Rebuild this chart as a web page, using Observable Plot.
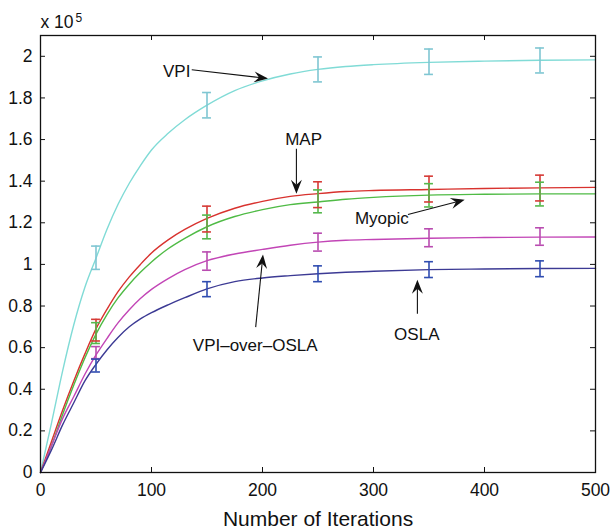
<!DOCTYPE html>
<html><head><meta charset="utf-8">
<script src="https://cdn.jsdelivr.net/npm/d3@7"></script>
<script src="https://cdn.jsdelivr.net/npm/@observablehq/plot@0.6"></script>
<style>html,body{margin:0;padding:0;background:#fff}</style>
</head><body><div id="chart"></div>
<script>
// ---- data ----
const iterations = [0,10,20,30,40,50,60,70,80,90,100,115,130,150,175,200,225,250,275,300,350,400,450,500];
const vpi        = [0,0.24,0.49,0.71,0.89,1.03,1.17,1.29,1.39,1.475,1.55,1.63,1.695,1.765,1.835,1.882,1.915,1.937,1.951,1.96,1.971,1.977,1.981,1.983];
const mapS       = [0,0.15,0.30,0.44,0.57,0.69,0.785,0.87,0.94,1.0,1.055,1.118,1.168,1.221,1.27,1.303,1.327,1.34,1.35,1.355,1.36,1.365,1.368,1.37];
const myopic     = [0,0.13,0.28,0.42,0.55,0.665,0.76,0.84,0.905,0.962,1.012,1.075,1.125,1.181,1.23,1.263,1.287,1.30,1.313,1.322,1.333,1.337,1.339,1.339];
const vpiOverOsla= [0,0.13,0.26,0.365,0.472,0.565,0.645,0.72,0.782,0.836,0.88,0.932,0.975,1.018,1.05,1.072,1.092,1.107,1.116,1.12,1.126,1.129,1.131,1.132];
const osla       = [0,0.11,0.23,0.335,0.44,0.52,0.59,0.65,0.70,0.738,0.768,0.806,0.84,0.882,0.917,0.935,0.946,0.955,0.962,0.967,0.975,0.978,0.98,0.981];

const barIterations = [50,150,250,350,450];
const vpiMean   = [1.032,1.765,1.937,1.974,1.98];
const vpiErr    = [0.056,0.061,0.06,0.061,0.06];
const mapMean   = [0.684,1.218,1.335,1.362,1.367];
const mapErr    = [0.052,0.062,0.062,0.062,0.062];
const myoMean   = [0.67,1.18,1.303,1.332,1.338];
const myoErr    = [0.05,0.057,0.055,0.056,0.057];
const voMean    = [0.576,1.016,1.107,1.128,1.134];
const voErr     = [0.029,0.044,0.043,0.043,0.042];
const oslaMean  = [0.514,0.881,0.955,0.975,0.979];
const oslaErr   = [0.031,0.036,0.038,0.038,0.038];

const xTicks = [0,100,200,300,400,500];
const yTicks = [0,0.2,0.4,0.6,0.8,1,1.2,1.4,1.6,1.8,2];

// annotations: label, text position, arrow start, arrow tip (data coordinates)
const annLabels = ["VPI","MAP","Myopic","VPI–over–OSLA","OSLA"];
const annTextX  = [122.7,237,307.5,193.4,339];
const annTextY  = [1.928,1.60,1.221,0.609,0.661];
const annFromX  = [136.7,231,331.5,194.3,340];
const annFromY  = [1.933,1.553,1.237,0.696,0.760];
const annToX    = [205.4,231,382.6,200.9,340];
const annToY    = [1.891,1.337,1.308,1.045,0.924];

// ---- build tables ----
const series = [
  {name:"VPI", values:vpi, mean:vpiMean, err:vpiErr, line:"#80dbd6", bar:"#7fc6d2"},
  {name:"MAP", values:mapS, mean:mapMean, err:mapErr, line:"#d8322e", bar:"#d63a36"},
  {name:"Myopic", values:myopic, mean:myoMean, err:myoErr, line:"#4fbb45", bar:"#55b84c"},
  {name:"VPI-over-OSLA", values:vpiOverOsla, mean:voMean, err:voErr, line:"#c245b6", bar:"#b94cb0"},
  {name:"OSLA", values:osla, mean:oslaMean, err:oslaErr, line:"#3c3a94", bar:"#2f4cb0"}
];
const lineData = series.flatMap(s => iterations.map((x,i) => ({name:s.name, x, y:s.values[i], c:s.line})));
const barData = series.flatMap(s => barIterations.map((x,i) => ({name:s.name, x, lo:s.mean[i]-s.err[i], hi:s.mean[i]+s.err[i], c:s.bar})));
const ann = annLabels.map((t,i) => ({t, tx:annTextX[i], ty:annTextY[i], fx:annFromX[i], fy:annFromY[i], x:annToX[i], y:annToY[i]}));

const font = "'Liberation Sans', Arial, Helvetica, sans-serif";

function arrowMark(index, scales) {
  const g = d3.create("svg:g");
  for (const a of ann) {
    const x1 = scales.x(a.fx), y1 = scales.y(a.fy), x2 = scales.x(a.x), y2 = scales.y(a.y);
    const ang = Math.atan2(y2 - y1, x2 - x1);
    const L = 14, W = 5.5, N = 5;
    const cos = Math.cos(ang), sin = Math.sin(ang);
    const pt = (u, v) => [x2 + u * cos - v * sin, y2 + u * sin + v * cos];
    const bx = pt(-L + N, 0);
    g.append("line").attr("x1", x1).attr("y1", y1).attr("x2", bx[0]).attr("y2", bx[1])
      .attr("stroke", "#111").attr("stroke-width", 1.1);
    const p = [pt(0,0), pt(-L, -W), pt(-L + N, 0), pt(-L, W)];
    g.append("path").attr("d", "M" + p.map(q => q.join(",")).join("L") + "Z").attr("fill", "#111");
  }
  return g.node();
}

const chart = Plot.plot({
  width: 613, height: 530,
  marginLeft: 40, marginRight: 18, marginTop: 35, marginBottom: 58,
  style: {fontFamily: font, fontSize: "17.5px", background: "#fff", color: "#111"},
  x: {domain: [0, 500]},
  y: {domain: [0, 2.1]},
  marks: [
    Plot.line(lineData, {x: "x", y: "y", z: "name", stroke: "c", strokeWidth: 1.4, curve: "monotone-x"}),
    Plot.ruleX(barData, {x: "x", y1: "lo", y2: "hi", stroke: "c", strokeWidth: 1.6}),
    Plot.ruleY(barData, {y: "lo", x1: d => d.x - 4, x2: d => d.x + 4, stroke: "c", strokeWidth: 1.6}),
    Plot.ruleY(barData, {y: "hi", x1: d => d.x - 4, x2: d => d.x + 4, stroke: "c", strokeWidth: 1.6}),
    // inward ticks on all four sides
    Plot.ruleY(yTicks, {y: d => d, x1: () => 0, x2: () => 4.5, stroke: "#111"}),
    Plot.ruleY(yTicks, {y: d => d, x1: () => 495.5, x2: () => 500, stroke: "#111"}),
    Plot.ruleX(xTicks, {x: d => d, y1: () => 0, y2: () => 0.024, stroke: "#111"}),
    Plot.ruleX(xTicks, {x: d => d, y1: () => 2.076, y2: () => 2.1, stroke: "#111"}),
    Plot.frame({stroke: "#111", strokeWidth: 1.3}),
    Plot.axisX({ticks: xTicks, tickSize: 0, tickPadding: 11, tickFormat: d => String(d), label: null, fontSize: 17.5}),
    Plot.axisY({ticks: yTicks, tickSize: 0, tickPadding: 8, tickFormat: d => String(d), label: null, fontSize: 17.5}),
    Plot.text(["Number of Iterations"], {frameAnchor: "bottom", text: d => d, lineAnchor: "bottom", dy: 53, fontSize: 21, fill: "#111"}),
    Plot.text(["x 10"], {frameAnchor: "top-left", text: d => d, textAnchor: "start", lineAnchor: "bottom", dy: -8, fontSize: 17.5, fill: "#111"}),
    Plot.text(["5"], {frameAnchor: "top-left", text: d => d, textAnchor: "start", lineAnchor: "bottom", dx: 35, dy: -14, fontSize: 12, fill: "#111"}),
    Plot.text(ann, {x: "tx", y: "ty", text: "t", fontSize: 17, fill: "#111"}),
    arrowMark
  ]
});
document.getElementById("chart").appendChild(chart);
</script>
</body></html>
